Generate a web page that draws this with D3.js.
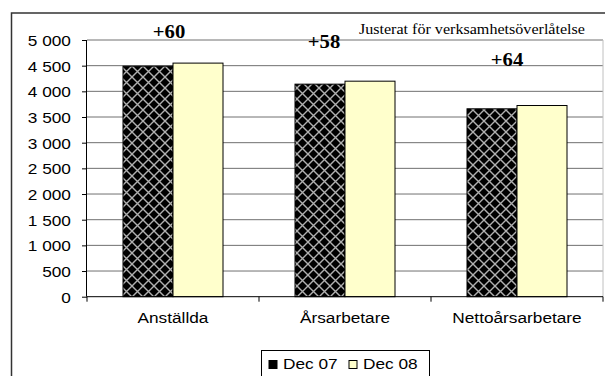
<!DOCTYPE html>
<html><head><meta charset="utf-8">
<script src="https://cdn.jsdelivr.net/npm/d3@7"></script>
<style>body{margin:0;background:#fff}svg{display:block}</style>
</head><body>
<script>
const categories = ["Anställda", "Årsarbetare", "Nettoårsarbetare"];
const seriesNames = ["Dec 07", "Dec 08"];
const dec07 = [4490, 4140, 3660];
const dec08 = [4550, 4198, 3724];
const diffLabels = ["+60", "+58", "+64"];
const diffAnchor = [5030, 4850, 4495];
const yTicks = [0, 500, 1000, 1500, 2000, 2500, 3000, 3500, 4000, 4500, 5000];
const note = "Justerat för verksamhetsöverlåtelse";

const W = 605, H = 376, SX = 1.15;
const svg = d3.select("body").append("svg").attr("width", W).attr("height", H);
const defs = svg.append("defs");
const pat = defs.append("pattern").attr("id", "hatch").attr("patternUnits", "userSpaceOnUse")
  .attr("width", 11).attr("height", 11);
pat.append("rect").attr("width", 11).attr("height", 11).attr("fill", "#000");
pat.append("path").attr("d", "M0,0L11,11M11,0L0,11M-1,10L1,12M10,-1L12,1")
  .attr("stroke", "#b0b0b0").attr("stroke-width", 1.4);
const pat2 = defs.append("pattern").attr("id", "hatchS").attr("patternUnits", "userSpaceOnUse")
  .attr("width", 6).attr("height", 6);
pat2.append("rect").attr("width", 6).attr("height", 6).attr("fill", "#000");

// outer border
svg.append("rect").attr("x", 11.5).attr("y", 13).attr("width", 640).attr("height", 400)
  .attr("fill", "none").attr("stroke", "#333").attr("stroke-width", 1.5);

const m = {l: 87, r: 603, t: 40, b: 296.7};
const x = d3.scaleBand().domain(categories).range([m.l, m.r]);
const xs = d3.scaleBand().domain(seriesNames).range([0, 100]);
const y = d3.scaleLinear().domain([0, 5000]).range([m.b, m.t]);
const fmt = d3.formatLocale({decimal: ",", thousands: " ", grouping: [3], currency: ["", ""]}).format(",d");

// gridlines
svg.append("g").selectAll("line").data(yTicks.filter(d => d > 0)).join("line")
  .attr("x1", m.l).attr("x2", m.r).attr("y1", d => y(d)).attr("y2", d => y(d))
  .attr("stroke", "#707070").attr("stroke-width", 1);
// plot right border
svg.append("line").attr("x1", m.r).attr("x2", m.r).attr("y1", m.t).attr("y2", m.b)
  .attr("stroke", "#c0c0c0");

// bars
const data = categories.map((c, i) => ({c, vals: [dec07[i], dec08[i]]}));
const fills = ["url(#hatch)", "#ffffcc"];
const g = svg.append("g");
data.forEach(d => {
  const cx = x(d.c) + x.bandwidth() / 2 - 50;
  g.selectAll(null).data(d.vals.map((v, j) => ({v, s: seriesNames[j], j}))).join("rect")
    .attr("x", e => cx + xs(e.s)).attr("width", xs.bandwidth())
    .attr("y", e => y(e.v)).attr("height", e => y(0) - y(e.v))
    .attr("fill", e => fills[e.j]).attr("stroke", "#000").attr("stroke-width", 1);
});

// y axis
const ya = svg.append("g").attr("transform", `translate(${m.l},0)`)
  .call(d3.axisLeft(y).tickValues(yTicks).tickSize(5).tickPadding(9).tickFormat(fmt));
ya.select(".domain").attr("stroke", "#000").attr("d", `M-0.5,${m.t}V${m.b}`);
ya.selectAll(".tick line").attr("stroke", "#000");
ya.selectAll(".tick text").attr("font-family", "Liberation Sans, Arial").attr("font-size", 15)
  .attr("fill", "#000").attr("transform", `scale(${SX},1)`).attr("dy", "0.36em");

// x axis
const xa = svg.append("g").attr("transform", `translate(0,${m.b})`);
xa.append("line").attr("x1", m.l).attr("x2", m.r).attr("stroke", "#000");
xa.selectAll(".t").data(categories.map(c => x(c)).concat([m.r])).join("line")
  .attr("x1", d => d).attr("x2", d => d).attr("y1", 0).attr("y2", 5).attr("stroke", "#000");
xa.selectAll("text").data(categories).join("text")
  .attr("transform", d => `translate(${x(d) + x.bandwidth() / 2},26) scale(${SX},1)`)
  .attr("text-anchor", "middle").attr("font-family", "Liberation Sans, Arial").attr("font-size", 15)
  .text(d => d);

// annotations
const dxOff = [-4, -21, -10];
svg.selectAll(".diff").data(diffLabels).join("text")
  .attr("transform", (d, i) => `translate(${x(categories[i]) + x.bandwidth() / 2 + dxOff[i]},${y(diffAnchor[i])}) scale(${SX},1)`)
  .attr("text-anchor", "middle").attr("font-family", "Liberation Serif, Times New Roman")
  .attr("font-weight", "bold").attr("font-size", 18).text(d => d);
svg.append("text").attr("transform", `translate(585,34) scale(${SX},1)`).attr("text-anchor", "end")
  .attr("font-family", "Liberation Serif, Times New Roman").attr("font-size", 14).text(note);

// legend
const lg = svg.append("g");
lg.append("rect").attr("x", 261.5).attr("y", 350.5).attr("width", 168).attr("height", 40)
  .attr("fill", "#fff").attr("stroke", "#000");
const lx = [269, 349];
seriesNames.forEach((s, i) => {
  lg.append("rect").attr("x", lx[i]).attr("y", 360.5).attr("width", 8).attr("height", 8)
    .attr("fill", i === 0 ? "#000" : "#ffffcc").attr("stroke", "#000");
  lg.append("text").attr("transform", `translate(${lx[i] + 14},369) scale(${SX},1)`)
    .attr("font-family", "Liberation Sans, Arial").attr("font-size", 15).text(s);
});
</script>
</body></html>
